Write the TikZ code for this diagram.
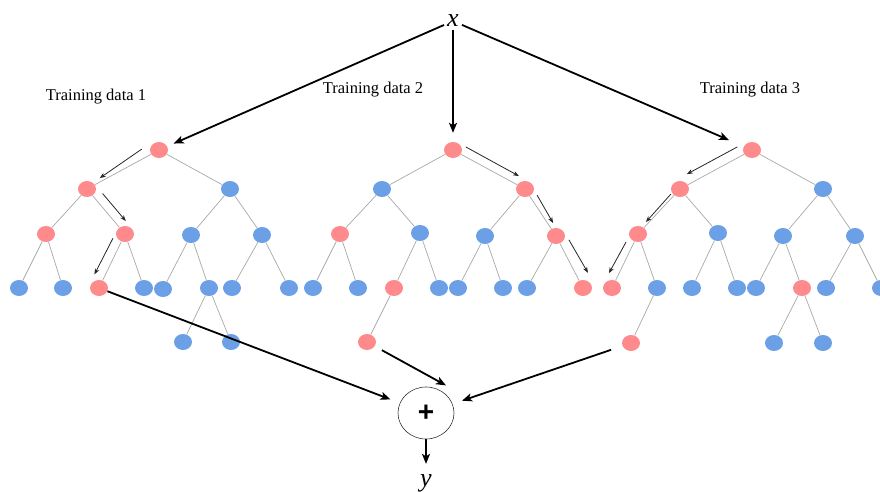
\documentclass[tikz,border=0pt]{standalone}
\usepackage{fontspec}
\setmainfont{Liberation Serif}
\newfontfamily\plusfont{Liberation Sans}
\usetikzlibrary{shapes.geometric,arrows.meta,calc}
\definecolor{nodered}{HTML}{FF8A8C}
\definecolor{nodeblue}{HTML}{6CA0E6}
\definecolor{edgegray}{HTML}{A8A8A8}

% small arrow running beside a tree edge: from, to, start/end fraction, start/end offset, side
\newcommand\hintarrow[7]{\draw[hint] ($(#1)!#3!(#2)!#5pt!#7:(#2)$) -- ($(#1)!#4!(#2)!#6pt!#7:(#2)$);}

\begin{document}
\begin{tikzpicture}[x=1pt,y=-1pt,
  treenode/.style={ellipse,inner sep=0pt,minimum width=18pt,minimum height=16pt},
  rnode/.style={treenode,fill=nodered},
  bnode/.style={treenode,fill=nodeblue},
  edge/.style={draw=edgegray,line width=0.7pt},
  hint/.style={draw=black!85,line width=0.8pt,-{Stealth[length=6pt,width=4.5pt]}},
  flow/.style={draw=black,line width=1.8pt,-{Stealth[length=10pt,width=8pt,inset=2.5pt]}},
  caption/.style={font=\fontsize{16.5}{18}\selectfont,anchor=base,inner sep=0pt},
  varlabel/.style={font=\fontsize{26}{26}\selectfont\itshape,anchor=base,inner sep=3pt},
  ]
\clip (0,0) rectangle (880,492);

% captions
\node[caption] (t1) at (96,101) {Training data 1};
\node[caption] (t2) at (373,94) {Training data 2};
\node[caption] (t3) at (750,94) {Training data 3};

% input and output
\node[varlabel] (x) at (453,27) {x};
\node[draw=black!80,line width=0.6pt,ellipse,minimum width=56pt,minimum height=52pt,inner sep=0pt,
      font=\plusfont\bfseries\fontsize{28}{28}\selectfont] (plus) at (426,413) {+};
\node[varlabel] (y) at (426,486) {y};

% tree 1
\node[rnode] (a0) at (159,150) {};
\node[rnode] (a1) at (87,189) {};
\node[bnode] (a2) at (230,189) {};
\node[rnode] (a3) at (46,234) {};
\node[rnode] (a4) at (125,234) {};
\node[bnode] (a5) at (191,235) {};
\node[bnode] (a6) at (262,235) {};
\node[bnode] (a7) at (19,288) {};
\node[bnode] (a8) at (63,288) {};
\node[rnode] (a9) at (99,288) {};
\node[bnode] (a10) at (144,288) {};
\node[bnode] (a11) at (163,289) {};
\node[bnode] (a12) at (209,288) {};
\node[bnode] (a13) at (232,288) {};
\node[bnode] (a14) at (289,288) {};
\node[bnode] (a15) at (183,342) {};
\node[bnode] (a16) at (231,342) {};
\foreach \p/\c in {a0/a1,a0/a2,a1/a3,a1/a4,a2/a5,a2/a6,a3/a7,a3/a8,a4/a9,a4/a10,
                   a5/a11,a5/a12,a6/a13,a6/a14,a12/a15,a12/a16}
  \draw[edge] (\p) -- (\c);

% tree 2
\node[rnode] (b0) at (453,150) {};
\node[bnode] (b1) at (382,189) {};
\node[rnode] (b2) at (525,189) {};
\node[rnode] (b3) at (340,234) {};
\node[bnode] (b4) at (420,233) {};
\node[bnode] (b5) at (485,236) {};
\node[rnode] (b6) at (556,236) {};
\node[bnode] (b7) at (313,288) {};
\node[bnode] (b8) at (358,288) {};
\node[rnode] (b9) at (394,288) {};
\node[bnode] (b10) at (439,288) {};
\node[bnode] (b11) at (458,288) {};
\node[bnode] (b12) at (503,288) {};
\node[bnode] (b13) at (527,288) {};
\node[rnode] (b14) at (583,288) {};
\node[rnode] (b15) at (367,342) {};
\foreach \p/\c in {b0/b1,b0/b2,b1/b3,b1/b4,b2/b5,b2/b6,b3/b7,b3/b8,b4/b9,b4/b10,
                   b5/b11,b5/b12,b6/b13,b6/b14,b9/b15}
  \draw[edge] (\p) -- (\c);

% tree 3
\node[rnode] (c0) at (752,150) {};
\node[rnode] (c1) at (680,189) {};
\node[bnode] (c2) at (823,189) {};
\node[rnode] (c3) at (638,234) {};
\node[bnode] (c4) at (718,233) {};
\node[bnode] (c5) at (783,236) {};
\node[bnode] (c6) at (855,236) {};
\node[rnode] (c7) at (612,288) {};
\node[bnode] (c8) at (657,288) {};
\node[bnode] (c9) at (692,288) {};
\node[bnode] (c10) at (737,288) {};
\node[bnode] (c11) at (756,288) {};
\node[rnode] (c12) at (802,288) {};
\node[bnode] (c13) at (826,288) {};
\node[bnode] (c14) at (881,288) {};
\node[rnode] (c15) at (631,343) {};
\node[bnode] (c16) at (774,343) {};
\node[bnode] (c17) at (823,343) {};
\foreach \p/\c in {c0/c1,c0/c2,c1/c3,c1/c4,c2/c5,c2/c6,c3/c7,c3/c8,c4/c9,c4/c10,
                   c5/c11,c5/c12,c6/c13,c6/c14,c8/c15,c12/c16,c12/c17}
  \draw[edge] (\p) -- (\c);

% decision paths
\hintarrow{a0}{a1}{0.18}{0.80}{9}{3.5}{-90}
\hintarrow{a1}{a4}{0.23}{0.84}{9}{9}{90}
\hintarrow{a4}{a9}{0.15}{0.83}{9}{10}{-90}
\hintarrow{b0}{b2}{0.12}{0.86}{8.8}{8.5}{90}
\hintarrow{b2}{b6}{0.21}{0.78}{6.7}{4.7}{90}
\hintarrow{b6}{b14}{0.16}{0.81}{9.7}{11.4}{90}
\hintarrow{c0}{c1}{0.14}{0.84}{9.7}{9.8}{-90}
\hintarrow{c1}{c3}{0.16}{0.77}{3.2}{2.4}{-90}
\hintarrow{c3}{c7}{0.21}{0.80}{7.3}{9.2}{-90}

% input to each tree
\draw[flow,shorten >=7pt] (x) -- (a0);
\draw[flow,shorten >=9pt] (x) -- (b0);
\draw[flow,shorten >=16pt] (x) -- (c0);

% leaves to the sum
\draw[flow,shorten >=10pt] (a9) -- (plus);
\draw[flow,shorten <=8pt] (b15) -- ([yshift=9pt]plus.north east);
\draw[flow,shorten <=12pt,shorten >=10pt] (c15) -- (plus);
\draw[flow,shorten >=7pt] (plus) -- (y);
\end{tikzpicture}
\end{document}
